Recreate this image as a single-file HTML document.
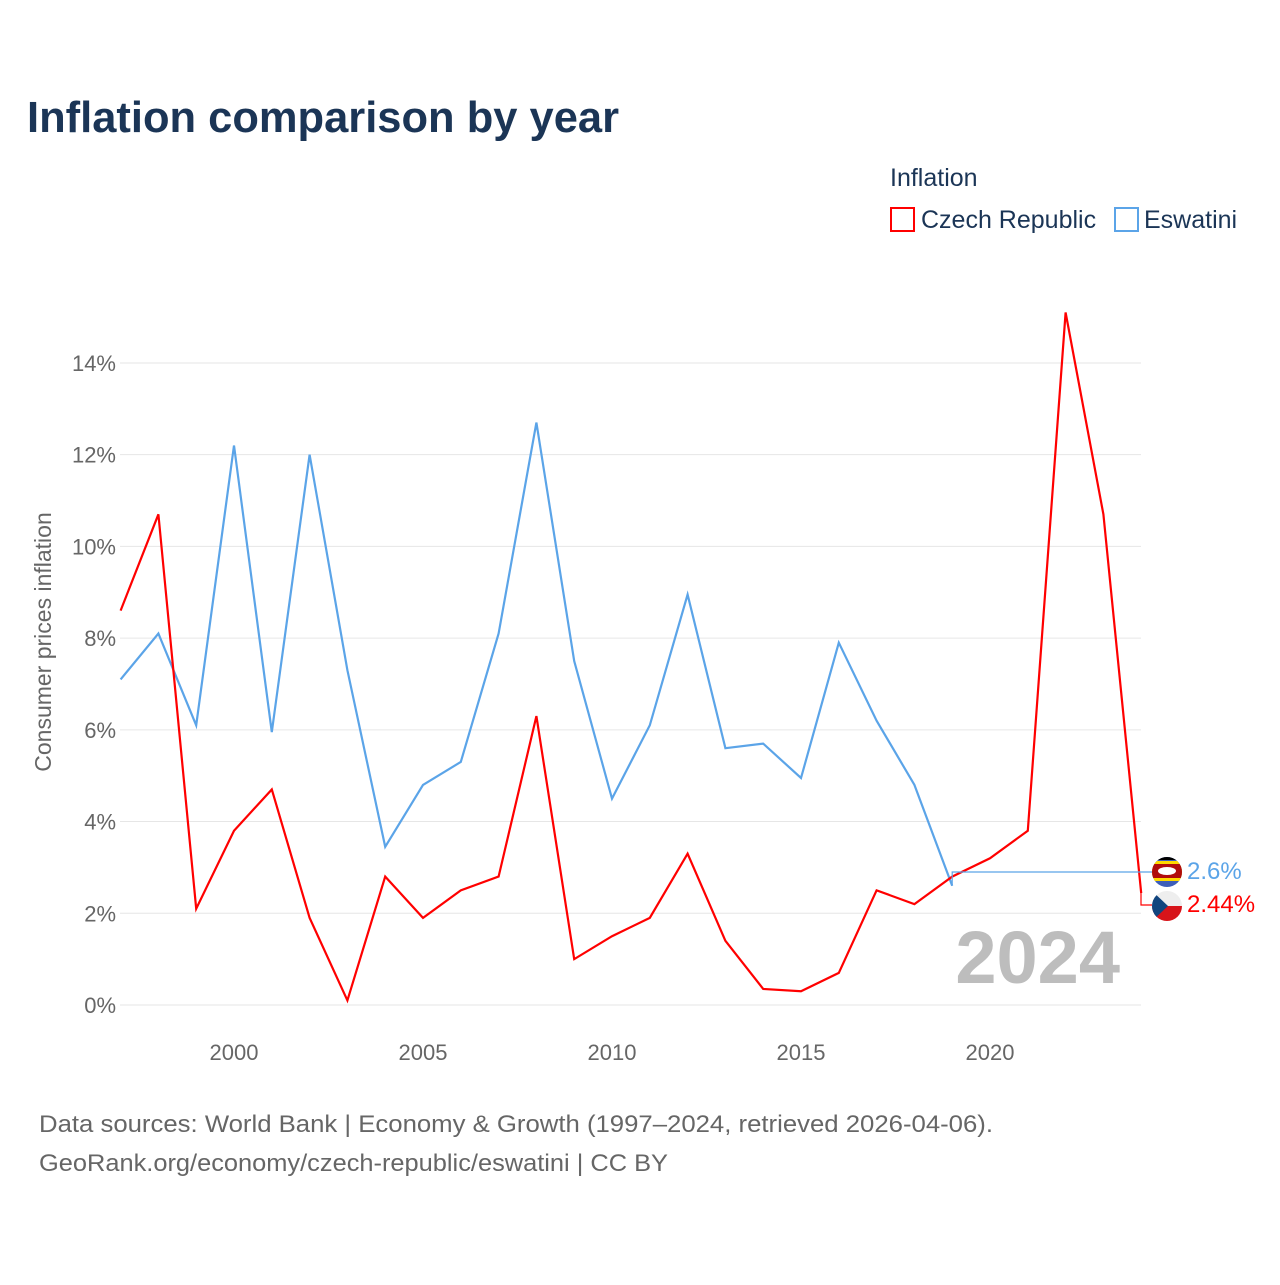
<!DOCTYPE html>
<html><head><meta charset="utf-8"><style>
body{margin:0;background:#fff;font-family:"Liberation Sans",sans-serif}
</style></head><body>
<svg width="1280" height="1280" xmlns="http://www.w3.org/2000/svg">
<text x="27" y="132" font-size="44" font-weight="bold" fill="#1b3556" textLength="592" lengthAdjust="spacingAndGlyphs">Inflation comparison by year</text>
<text x="890" y="186" font-size="25" fill="#1b3556">Inflation</text>
<g><rect x="891" y="208" width="23" height="23" fill="none" stroke="#f00" stroke-width="2"/><text x="921" y="228" font-size="25" fill="#1b3556">Czech Republic</text></g>
<g><rect x="1115" y="208" width="23" height="23" fill="none" stroke="#5ba4e8" stroke-width="2"/><text x="1144" y="228" font-size="25" fill="#1b3556">Eswatini</text></g>
<text transform="translate(51,642) rotate(-90)" text-anchor="middle" font-size="23" fill="#666">Consumer prices inflation</text>
<g id="grid"></g><g id="xt"></g>
<text x="1120" y="983" text-anchor="end" font-size="74" font-weight="bold" fill="#bdbdbd">2024</text>
<g id="lines"></g>
<text x="39" y="1132" font-size="24" fill="#666" textLength="954" lengthAdjust="spacingAndGlyphs">Data sources: World Bank | Economy &amp; Growth (1997–2024, retrieved 2026-04-06).</text>
<text x="39" y="1171" font-size="24" fill="#666" textLength="629" lengthAdjust="spacingAndGlyphs">GeoRank.org/economy/czech-republic/eswatini | CC BY</text>
</svg>
<script>
const years=[1997,1998,1999,2000,2001,2002,2003,2004,2005,2006,2007,2008,2009,2010,2011,2012,2013,2014,2015,2016,2017,2018,2019,2020,2021,2022,2023,2024];
const czech=[8.6,10.7,2.1,3.8,4.7,1.9,0.1,2.8,1.9,2.5,2.8,6.3,1.0,1.5,1.9,3.3,1.4,0.35,0.3,0.7,2.5,2.2,2.8,3.2,3.8,15.1,10.7,2.44];
const eswatini=[7.1,8.1,6.1,12.2,5.95,12.0,7.3,3.45,4.8,5.3,8.1,12.7,7.5,4.5,6.1,8.95,5.6,5.7,4.95,7.9,6.2,4.8,2.6];
const yTicks=[0,2,4,6,8,10,12,14];
const xTicks=[2000,2005,2010,2015,2020];
const NS='http://www.w3.org/2000/svg';
const X=y=>120.6+(y-1997)*37.8, Y=v=>1005-v*45.86;
function mk(t,a,p){const e=document.createElementNS(NS,t);for(const k in a)e.setAttribute(k,a[k]);p.appendChild(e);return e;}
const g=document.getElementById('grid');
yTicks.forEach(v=>{
 const l=mk('line',{x1:120,x2:1141,y1:Y(v),y2:Y(v),stroke:'#e6e6e6'},g);
 
 
 const t=mk('text',{x:116,y:Y(v)+8,'text-anchor':'end','font-size':22,fill:'#666'},g);t.textContent=v+'%';
 
 
});
const xt=document.getElementById('xt');
xTicks.forEach(v=>{const t=mk('text',{x:X(v),y:1060,'text-anchor':'middle','font-size':22,fill:'#666'},xt);t.textContent=v;
 
 });
const L=document.getElementById('lines');
function series(vals,col,name){
 const p=mk('polyline',{points:vals.map((v,i)=>X(years[i])+','+Y(v)).join(' '),fill:'none',stroke:col,'stroke-width':2.2},L);
 
 
}
series(eswatini,'#5ba4e8','line-eswatini');
series(czech,'#f00','line-czech');
const eL=eswatini[eswatini.length-1], cL=czech[czech.length-1];
const ex=X(years[eswatini.length-1]);
mk('polyline',{points:`${ex},${Y(eL)} ${ex},872 1152,872`,fill:'none',stroke:'#5ba4e8','stroke-width':1.2},L);
mk('polyline',{points:`1141,${Y(cL)} 1141,905 1152,905`,fill:'none',stroke:'#f00','stroke-width':1.2},L);
const fe=mk('g',{},L);
mk('clipPath',{id:'c1'},fe).appendChild(mk('circle',{cx:1167,cy:872,r:15},fe));
const fg=mk('g',{'clip-path':'url(#c1)'},fe);
mk('rect',{x:1150,y:855,width:34,height:34,fill:'#3e5eb9'},fg);
mk('rect',{x:1150,y:861,width:34,height:20,fill:'#ffd900'},fg);
mk('rect',{x:1150,y:864,width:34,height:14,fill:'#b10c0c'},fg);
mk('ellipse',{cx:1167,cy:871,rx:9,ry:4,fill:'#fff'},fg);
mk('rect',{x:1150,y:855,width:34,height:5,fill:'#000'},fg);
const fc=mk('g',{},L);
mk('clipPath',{id:'c2'},fc).appendChild(mk('circle',{cx:1167,cy:906,r:15},fc));
const cg=mk('g',{'clip-path':'url(#c2)'},fc);
mk('rect',{x:1150,y:889,width:34,height:17,fill:'#eee'},cg);
mk('rect',{x:1150,y:906,width:34,height:17,fill:'#d7141a'},cg);
mk('polygon',{points:'1150,889 1168,906 1150,923',fill:'#11457e'},cg);
const t1=mk('text',{x:1187,y:879,'font-size':24,fill:'#5ba4e8'},L);t1.textContent=eL+'%';


const t2=mk('text',{x:1187,y:912,'font-size':24,fill:'#f00'},L);t2.textContent=cL+'%';


</script>
</body></html>
